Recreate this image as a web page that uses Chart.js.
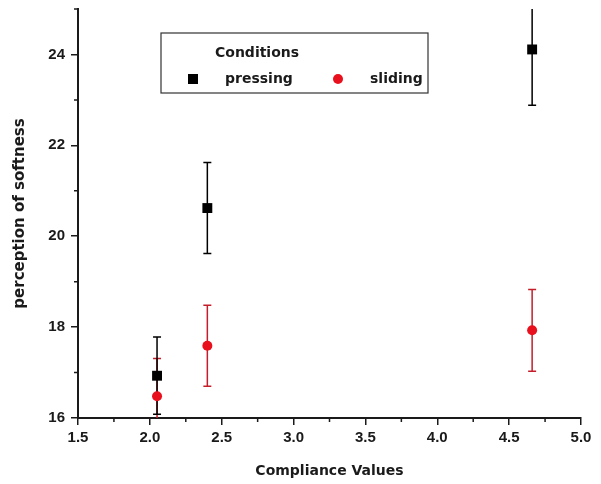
<!DOCTYPE html>
<html>
<head>
<meta charset="utf-8">
<script src="https://cdn.jsdelivr.net/npm/chart.js@4.4.1/dist/chart.umd.min.js"></script>
<style>
  html, body { margin: 0; padding: 0; background: #fff; }
  #wrap { width: 601px; height: 484px; }
</style>
</head>
<body>
<div id="wrap"><canvas id="chart" width="601" height="484"></canvas></div>
<script>
// Perception of softness vs compliance, pressing vs sliding

const compliance = [2.05, 2.40, 4.66];
const pressingMean = [16.93, 20.62, 24.11];
const pressingErr = [0.85, 1.00, 1.23];
const slidingMean = [16.48, 17.59, 17.93];
const slidingErr = [0.83, 0.89, 0.90];

const xMinorTicks = [1.75, 2.25, 2.75, 3.25, 3.75, 4.25, 4.75];
const yMinorTicks = [17, 19, 21, 23, 25];

const ink = '#1a1a1a';
const tickFont = { family: 'Liberation Sans, Arial, sans-serif', size: 15, weight: 'bold' };
const titleFont = { family: 'DejaVu Sans, sans-serif', size: 14, weight: 'bold' };

function toPoints(xs, ys) {
    return xs.map((x, i) => ({ x: x, y: ys[i] }));
}

// error bars, drawn under the markers and clipped to the plot area
const errorBars = {
    id: 'errorBars',
    beforeDatasetsDraw(chart) {
        const { ctx, chartArea, scales: { x, y } } = chart;
        ctx.save();
        ctx.beginPath();
        ctx.rect(chartArea.left, chartArea.top, chartArea.right - chartArea.left, chartArea.bottom - chartArea.top);
        ctx.clip();
        const order = [1, 0];
        order.forEach(di => {
            const ds = chart.data.datasets[di];
            ctx.strokeStyle = ds.errorColor;
            ctx.lineWidth = 1.5;
            ds.data.forEach((p, i) => {
                const px = x.getPixelForValue(p.x);
                const top = y.getPixelForValue(p.y + ds.errors[i]);
                const bot = y.getPixelForValue(p.y - ds.errors[i]);
                ctx.beginPath();
                ctx.moveTo(px, top); ctx.lineTo(px, bot);
                ctx.moveTo(px - 4, top); ctx.lineTo(px + 4, top);
                ctx.moveTo(px - 4, bot); ctx.lineTo(px + 4, bot);
                ctx.stroke();
            });
        });
        ctx.restore();
    }
};

// short minor tick marks between the labelled ones
const minorTicks = {
    id: 'minorTicks',
    afterDraw(chart) {
        const { ctx, chartArea, scales: { x, y } } = chart;
        ctx.save();
        ctx.strokeStyle = ink;
        ctx.lineWidth = 1.5;
        ctx.beginPath();
        xMinorTicks.forEach(v => {
            const px = x.getPixelForValue(v);
            ctx.moveTo(px, chartArea.bottom);
            ctx.lineTo(px, chartArea.bottom + 4);
        });
        yMinorTicks.forEach(v => {
            const py = y.getPixelForValue(v);
            ctx.moveTo(chartArea.left, py);
            ctx.lineTo(chartArea.left - 4, py);
        });
        ctx.stroke();
        ctx.restore();
    }
};

// boxed legend with a title line, as in the original plot
const boxLegend = {
    id: 'boxLegend',
    afterDraw(chart) {
        const ctx = chart.ctx;
        ctx.save();
        ctx.strokeStyle = '#333';
        ctx.lineWidth = 1.2;
        ctx.strokeRect(161, 33, 267, 60);
        ctx.fillStyle = ink;
        ctx.font = 'bold 14px "DejaVu Sans", sans-serif';
        ctx.textBaseline = 'middle';
        ctx.fillText('Conditions', 215, 53);

        const entries = [
            { markX: 193, textX: 225 },
            { markX: 338, textX: 370 }
        ];
        chart.data.datasets.forEach((ds, i) => {
            const e = entries[i];
            ctx.fillStyle = ds.pointBackgroundColor;
            ctx.beginPath();
            if (ds.pointStyle === 'rect') {
                ctx.rect(e.markX - 5, 79 - 5, 10, 10);
            } else {
                ctx.arc(e.markX, 79, 5, 0, Math.PI * 2);
            }
            ctx.fill();
            ctx.fillStyle = ink;
            ctx.fillText(ds.label, e.textX, 79);
        });
        ctx.restore();
    }
};

new Chart(document.getElementById('chart'), {
    type: 'scatter',
    data: {
        datasets: [
            {
                label: 'pressing',
                data: toPoints(compliance, pressingMean),
                errors: pressingErr,
                errorColor: '#000000',
                pointStyle: 'rect',
                pointRadius: 7,
                pointBackgroundColor: '#000000',
                pointBorderWidth: 0
            },
            {
                label: 'sliding',
                data: toPoints(compliance, slidingMean),
                errors: slidingErr,
                errorColor: '#c41e2a',
                pointStyle: 'circle',
                pointRadius: 5,
                pointBackgroundColor: '#e8101c',
                pointBorderWidth: 0
            }
        ]
    },
    options: {
        responsive: false,
        animation: false,
        layout: { padding: { top: 9, right: 20, left: 0, bottom: 0 } },
        plugins: {
            legend: { display: false },
            tooltip: { enabled: false }
        },
        scales: {
            x: {
                type: 'linear',
                min: 1.5,
                max: 5.0,
                ticks: {
                    stepSize: 0.5,
                    color: ink,
                    font: tickFont,
                    padding: 4,
                    callback: v => v.toFixed(1)
                },
                grid: { drawOnChartArea: false, tickLength: 7, color: ink, lineWidth: 1.5 },
                border: { color: ink, width: 2 },
                title: {
                    display: true,
                    text: 'Compliance Values',
                    color: ink,
                    font: titleFont,
                    padding: { top: 0, bottom: 4 }
                },
                afterFit: s => { s.height = 66; s.paddingLeft = 0; s.paddingRight = 0; }
            },
            y: {
                min: 16,
                max: 25,
                ticks: {
                    stepSize: 2,
                    includeBounds: false,
                    color: ink,
                    font: tickFont,
                    padding: 6
                },
                grid: { drawOnChartArea: false, tickLength: 7, color: ink, lineWidth: 1.5 },
                border: { color: ink, width: 2 },
                title: {
                    display: true,
                    text: 'perception of softness',
                    color: ink,
                    font: { family: 'DejaVu Sans, sans-serif', size: 15, weight: 'bold' },
                    padding: { top: 11, bottom: 0 }
                },
                afterFit: s => { s.width = 78; s.paddingTop = 0; s.paddingBottom = 0; }
            }
        }
    },
    plugins: [errorBars, minorTicks, boxLegend]
});
</script>
</body>
</html>
